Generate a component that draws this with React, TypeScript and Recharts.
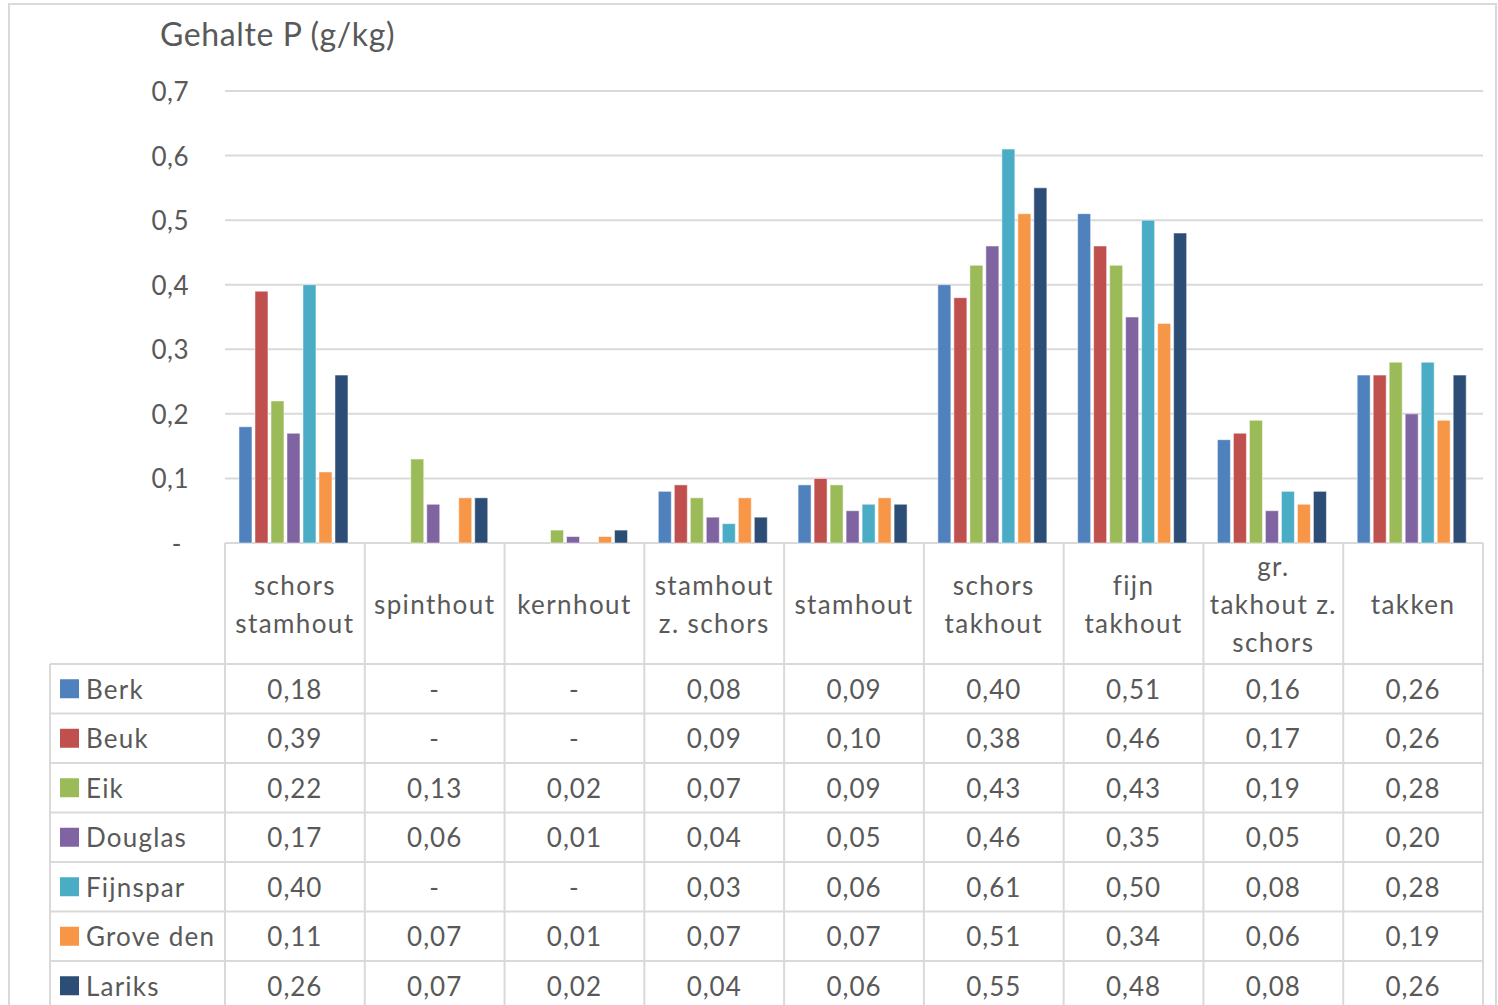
import React from "react";
import { BarChart, Bar, XAxis, YAxis, CartesianGrid } from "recharts";

// Phosphorus content (g/kg) per tree part and species
const categories = [
  "schors\nstamhout",
  "spinthout",
  "kernhout",
  "stamhout\nz. schors",
  "stamhout",
  "schors\ntakhout",
  "fijn\ntakhout",
  "gr.\ntakhout z.\nschors",
  "takken",
];

const berk = [0.18, null, null, 0.08, 0.09, 0.4, 0.51, 0.16, 0.26];
const beuk = [0.39, null, null, 0.09, 0.1, 0.38, 0.46, 0.17, 0.26];
const eik = [0.22, 0.13, 0.02, 0.07, 0.09, 0.43, 0.43, 0.19, 0.28];
const douglas = [0.17, 0.06, 0.01, 0.04, 0.05, 0.46, 0.35, 0.05, 0.2];
const fijnspar = [0.4, null, null, 0.03, 0.06, 0.61, 0.5, 0.08, 0.28];
const groveDen = [0.11, 0.07, 0.01, 0.07, 0.07, 0.51, 0.34, 0.06, 0.19];
const lariks = [0.26, 0.07, 0.02, 0.04, 0.06, 0.55, 0.48, 0.08, 0.26];

const yTicks = [0, 0.1, 0.2, 0.3, 0.4, 0.5, 0.6, 0.7];

const series = [
  { key: "Berk", values: berk, color: "#4F81BD" },
  { key: "Beuk", values: beuk, color: "#C0504D" },
  { key: "Eik", values: eik, color: "#9BBB59" },
  { key: "Douglas", values: douglas, color: "#8064A2" },
  { key: "Fijnspar", values: fijnspar, color: "#4BACC6" },
  { key: "Grove den", values: groveDen, color: "#F79646" },
  { key: "Lariks", values: lariks, color: "#2C4D75" },
];

const data = categories.map((name, i) => {
  const row: Record<string, any> = { name };
  series.forEach((s) => (row[s.key] = s.values[i]));
  return row;
});

// layout
const W = 1498;
const H = 1005;
const FONT = "Lato, 'Open Sans', sans-serif";
const TEXT = "#595959";
const LINE = "#D9D9D9";
const PLOT_LEFT = 225;
const PLOT_RIGHT = 1483;
const PLOT_TOP = 91;
const PLOT_BOTTOM = 543;
const HEADER_H = 121;
const TABLE_LEFT = 50;
const ROW_H = 49.5;
const COL_W = (PLOT_RIGHT - PLOT_LEFT) / categories.length;

const fmt = (v: number | null) =>
  v == null ? "-" : v.toFixed(2).replace(".", ",");

const YTick = (props: any) => {
  const { x, y, payload } = props;
  const v = payload.value as number;
  const label = v === 0 ? "-" : v.toFixed(1).replace(".", ",");
  return (
    <text
      x={v === 0 ? x - 7 : x}
      y={y}
      textAnchor="end"
      dominantBaseline="central"
      fill={TEXT}
      fontSize={26}
      fontFamily={FONT}
      letterSpacing={0.5}
    >
      {label}
    </text>
  );
};

const XTick = (props: any) => {
  const { x, payload } = props;
  const lines = String(payload.value).split("\n");
  const mid = PLOT_BOTTOM + HEADER_H / 2;
  const lh = 38;
  return (
    <g>
      {lines.map((ln, i) => (
        <text
          key={i}
          x={x}
          y={mid + (i - (lines.length - 1) / 2) * lh}
          textAnchor="middle"
          dominantBaseline="central"
          fill={TEXT}
          fontSize={26}
          fontFamily={FONT}
          letterSpacing={1.4}
        >
          {ln}
        </text>
      ))}
    </g>
  );
};

const DataTable = () => {
  const top = PLOT_BOTTOM + HEADER_H;
  const rowsVisible = Math.ceil((H - top) / ROW_H);
  return (
    <svg
      width={W}
      height={H}
      style={{ position: "absolute", left: 0, top: 0, pointerEvents: "none" }}
    >
      {/* chart frame */}
      <rect x={9} y={4} width={1487} height={H + 10} fill="none" stroke={LINE} strokeWidth={2} />
      {/* column separators */}
      {Array.from({ length: categories.length + 1 }).map((_, i) => (
        <line
          key={"c" + i}
          x1={PLOT_LEFT + i * COL_W}
          x2={PLOT_LEFT + i * COL_W}
          y1={PLOT_BOTTOM}
          y2={H}
          stroke={LINE}
          strokeWidth={2}
        />
      ))}
      <line x1={TABLE_LEFT} x2={TABLE_LEFT} y1={top} y2={H} stroke={LINE} strokeWidth={2} />
      {/* row separators */}
      {Array.from({ length: rowsVisible + 1 }).map((_, r) => (
        <line
          key={"r" + r}
          x1={TABLE_LEFT}
          x2={PLOT_RIGHT}
          y1={top + r * ROW_H}
          y2={top + r * ROW_H}
          stroke={LINE}
          strokeWidth={2}
        />
      ))}
      {series.map((s, r) => {
        const cy = top + (r + 0.5) * ROW_H;
        return (
          <g key={s.key}>
            <rect x={60} y={cy - 9.5} width={19} height={19} fill={s.color} />
            <text
              x={86}
              y={cy}
              dominantBaseline="central"
              fill={TEXT}
              fontSize={26}
              fontFamily={FONT}
              letterSpacing={1.2}
            >
              {s.key}
            </text>
            {s.values.map((v, c) => (
              <text
                key={c}
                x={PLOT_LEFT + (c + 0.5) * COL_W}
                y={cy}
                textAnchor="middle"
                dominantBaseline="central"
                fill={TEXT}
                fontSize={26}
                fontFamily={FONT}
                letterSpacing={1}
              >
                {fmt(v)}
              </text>
            ))}
          </g>
        );
      })}
    </svg>
  );
};

export default function App() {
  return (
    <div
      style={{
        position: "absolute",
        left: 0,
        top: 0,
        width: W,
        height: H,
        overflow: "hidden",
        background: "#fff",
      }}
    >
      <BarChart
        width={W}
        height={H}
        data={data}
        margin={{ top: PLOT_TOP, right: W - PLOT_RIGHT, left: 0, bottom: H - PLOT_BOTTOM - HEADER_H }}
        barCategoryGap="10%"
        barGap={3}
      >
        <CartesianGrid vertical={false} stroke={LINE} strokeWidth={2} />
        <XAxis
          dataKey="name"
          height={HEADER_H}
          axisLine={false}
          tickLine={false}
          interval={0}
          tick={<XTick />}
        />
        <YAxis
          width={PLOT_LEFT}
          domain={[0, 0.7]}
          ticks={yTicks}
          axisLine={false}
          tickLine={false}
          tickMargin={30}
          tick={<YTick />}
        />
        {series.map((s) => (
          <Bar
            key={s.key}
            dataKey={s.key}
            fill={s.color}
            stroke="#ffffff"
            strokeOpacity={0.5}
            strokeWidth={1}
            isAnimationActive={false}
          />
        ))}
      </BarChart>
      <div
        style={{
          position: "absolute",
          left: 160,
          top: 14,
          fontFamily: FONT,
          fontSize: 32,
          letterSpacing: 0.6,
          color: TEXT,
          lineHeight: "40px",
          whiteSpace: "nowrap",
        }}
      >
        Gehalte P (g/kg)
      </div>
      <DataTable />
    </div>
  );
}
